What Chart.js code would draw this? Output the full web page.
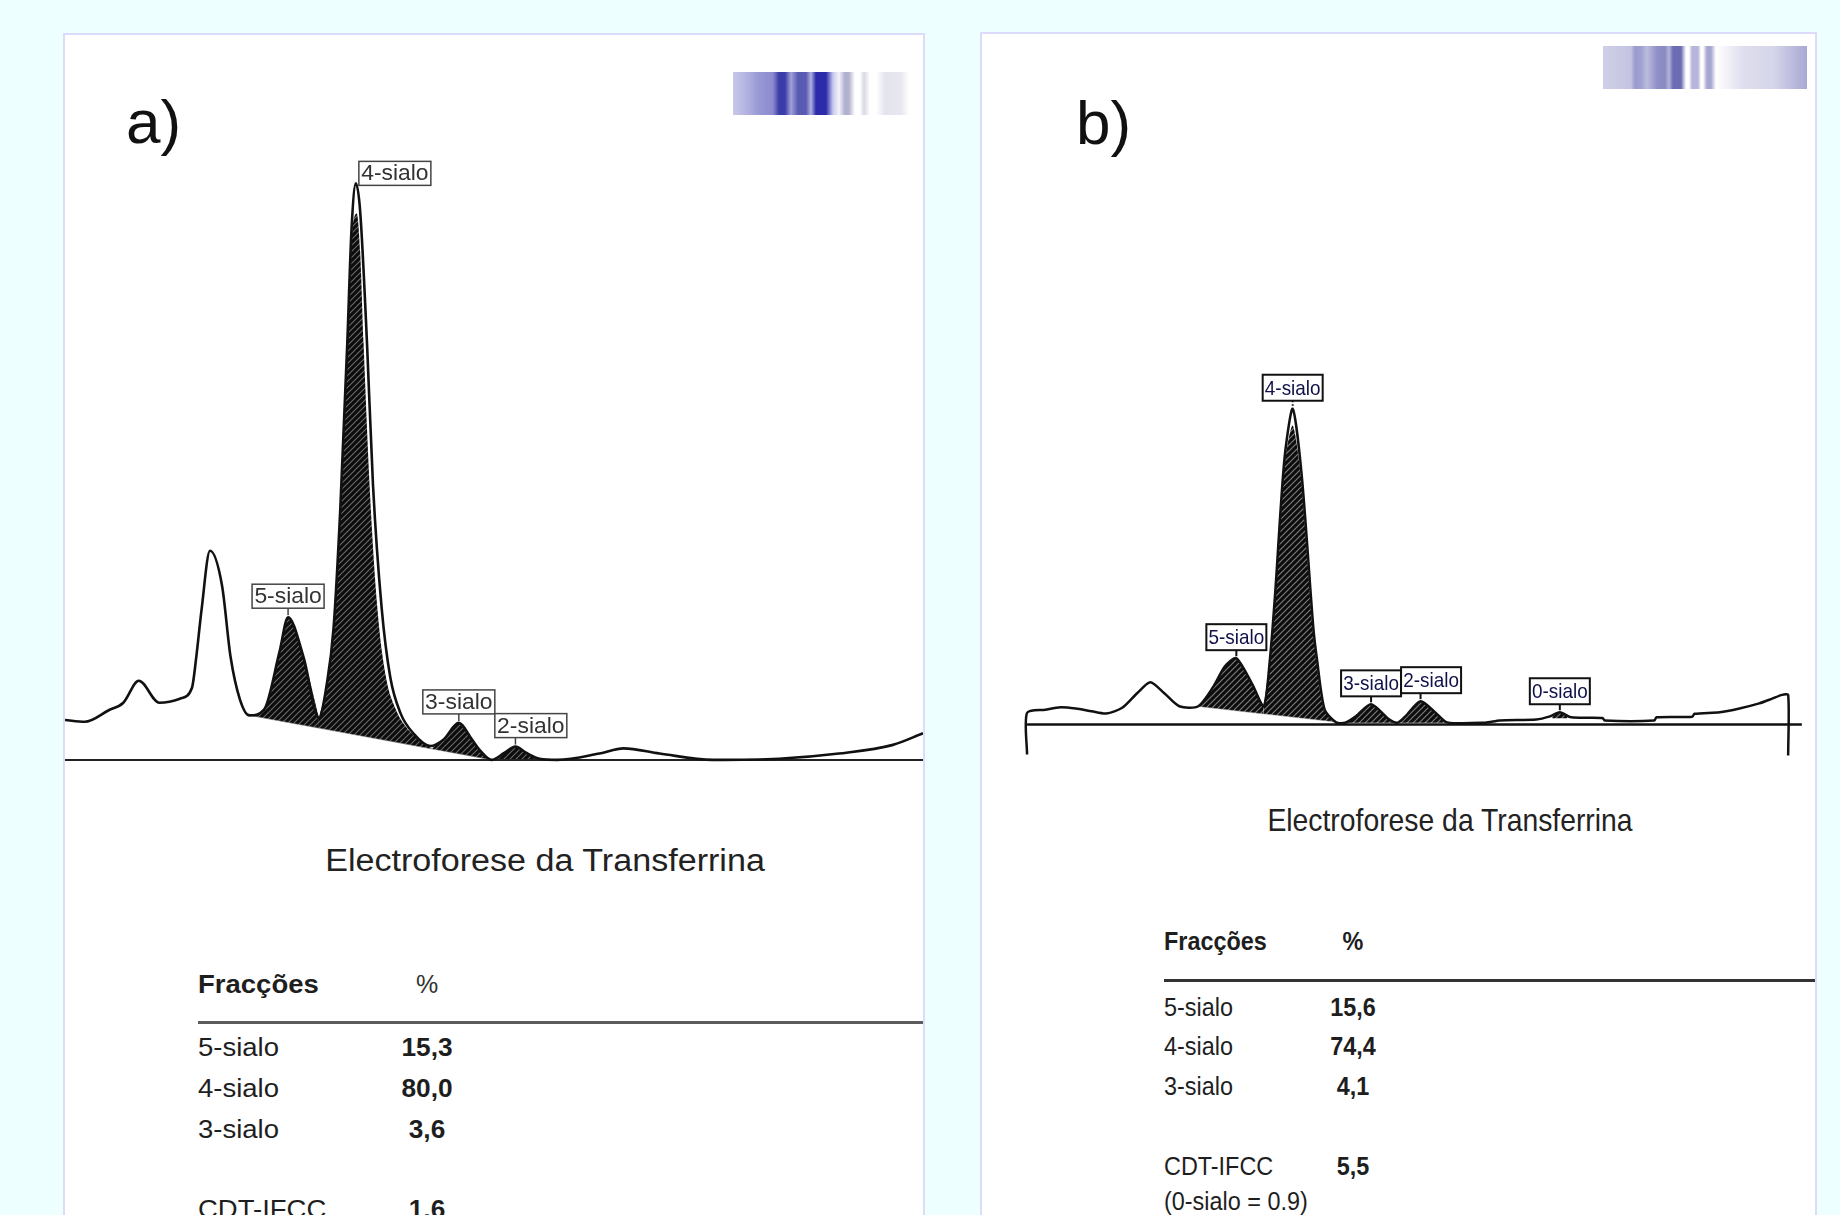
<!DOCTYPE html>
<html><head><meta charset="utf-8">
<script src="https://cdn.jsdelivr.net/npm/chart.js@4.4.1/dist/chart.umd.min.js"></script>
<style>
html,body{margin:0;padding:0;}
body{width:1840px;height:1215px;overflow:hidden;background:#edffff;position:relative;font-family:'Liberation Sans',Arial,sans-serif;color:#1e1e1e;}
.panel{position:absolute;background:#fff;border:2px solid #dcdcfa;box-sizing:border-box;}
.t{position:absolute;white-space:nowrap;transform-origin:0 0;}
canvas{position:absolute;}
.rule{position:absolute;}
.code{position:absolute;}
</style></head><body>
<div class="panel" style="left:63px;top:33px;width:862px;height:1300px"></div>
<div class="panel" style="left:980px;top:32px;width:837px;height:1300px"></div>
<div class="code" style="left:733px;top:72px;width:176px;height:43px;background:linear-gradient(to right,#c8c8ea 0px,#b0b0e0 15px,#9a9ad6 25px,#8a8acf 40px,#3c3ca8 46px,#3c3ca8 52px,#a0a0da 58px,#5a5ab2 65px,#5a5ab2 73px,#b0b0e0 78px,#2c2caa 83px,#2c2caa 93px,#c8c8ee 100px,#f4f4fa 106px,#aeaed0 112px,#b4b4d0 116px,#ffffff 122px,#ffffff 127px,#d8d8e6 131px,#ffffff 137px,#ffffff 143px,#e4e4ee 152px,#e8e8f0 168px,#ffffff 176px)"></div>
<div class="code" style="left:1603px;top:46px;width:204px;height:43px;background:linear-gradient(to right,#cfcfe8 0px,#c4c4e2 28px,#9a9acf 32px,#a0a0d2 38px,#bcbcde 44px,#9090c8 54px,#8a8ac4 62px,#b4b4da 66px,#6c6cb2 70px,#6c6cb2 78px,#ffffff 83px,#ffffff 86px,#b6b6da 89px,#b6b6da 95px,#ffffff 98px,#ffffff 100px,#a6a6d2 104px,#a6a6d2 108px,#ffffff 113px,#f2f2f8 124px,#dedeee 140px,#d6d6ea 170px,#a8a8d4 204px)"></div>
<canvas id="ca" width="858" height="647" style="left:65px;top:136px"></canvas>
<canvas id="cb" width="822" height="411" style="left:989px;top:361px"></canvas>
<div class="rule" style="left:198px;top:1021px;width:725px;height:3px;background:#5c5c5c"></div>
<div class="rule" style="left:1164px;top:979px;width:651px;height:3px;background:#333"></div>
<script>
// ================= DATA =================
// Panel a) electropherogram: [relative mobility, signal]
const traceA = [[0,6.9],[2.3,6.6],[5.1,8.6],[6.8,9.9],[8.6,13.7],[11.0,9.9],[13.4,10.6],[14.8,12.5],[15.3,17.8],[15.9,25.8],[16.9,36.2],[18.3,30.2],[19.3,17.8],[20.4,10.4],[21.5,7.7],[23.2,8.7],[25.0,18.7],[26.0,24.7],[27.8,17.8],[29.6,7.3],[30.5,13.0],[31.3,22.8],[32.1,43.9],[32.9,72.1],[33.4,92.0],[33.9,99.8],[34.4,95.0],[35.2,72.1],[35.9,47.5],[36.9,26.4],[37.9,14.4],[39.1,8.1],[40.6,4.6],[42.6,2.4],[44.1,3.5],[45.9,6.4],[47.4,3.6],[48.4,1.6],[49.7,0],[51.2,1.2],[52.5,2.3],[53.8,1.2],[55.3,0.2],[57.4,0],[62.3,1.1],[65.1,2.0],[69.3,1.1],[75.5,0],[83.2,0.2],[90.2,1.1],[96.5,2.6],[100,4.6]];
const baselineA = [[0,0],[100,0]];
const integrationA = [[21.5,7.7],[49.7,0]];
const shade5A = [[21.5,7.7],[23.2,8.7],[25.0,18.7],[26.0,24.7],[27.8,17.8],[29.6,7.3]];
const shade4A = [[29.6,7.3],[30.5,13.0],[31.3,22.8],[32.1,43.9],[32.9,72.1],[33.3,88.0],[34.0,94.6],[34.4,88.0],[34.8,72.1],[35.5,47.5],[36.4,26.4],[37.4,14.4],[38.6,8.6],[39.7,5.8],[41.2,3.6],[42.8,1.9]];
const shade3A = [[42.8,2.0],[44.1,3.5],[45.9,6.4],[47.4,3.6],[48.4,1.6],[49.7,0]];
const shade2A = [[49.7,0],[51.2,1.2],[52.5,2.3],[53.8,1.2],[55.3,0.2]];
const peakNamesA = ['5-sialo','4-sialo','3-sialo','2-sialo'];
const peakPosA = [26.0,33.9,45.9,52.5];
const fractionsA = ['5-sialo','4-sialo','3-sialo'];
const percentsA = ['15,3','80,0','3,6'];
const cdtA = ['CDT-IFCC','1,6'];

// Panel b) electropherogram
const traceB = [[0,-9.5],[0,3.7],[2.4,4.7],[4.4,5.5],[6.4,5.1],[8.5,4.2],[10.4,3.5],[12.5,5.3],[14.5,10.0],[16.2,13.4],[18.0,10.0],[20.0,5.8],[22.5,5.8],[24.5,12.1],[26.0,18.4],[27.5,21.0],[29.6,12.7],[31.1,5.8],[31.9,20.5],[32.6,41.6],[33.8,83.6],[34.9,99.9],[36.1,78.5],[37.6,31.0],[38.1,20.5],[39.1,4.7],[40.6,0.7],[41.8,0.6],[43.2,2.6],[45.2,6.4],[47.6,1.6],[48.7,0.6],[49.7,2.6],[51.7,7.4],[53.7,3.7],[55.2,0.7],[60.2,0.6],[62.1,1.3],[66.9,1.6],[68.6,2.5],[70.0,3.9],[71.5,2.3],[75.6,2.1],[75.9,1.3],[82.4,1.3],[82.7,2.3],[87.4,2.5],[87.7,3.4],[91.0,3.9],[93.6,5.1],[96.2,6.7],[97.9,8.2],[99.2,9.4],[100,9.4],[100,-9.8]];
const baselineB = [[0,0],[101.8,0]];
const integrationB = [[22.5,5.7],[40.6,0.8]];
const shade5B = [[22.5,5.8],[24.5,12.1],[26.0,18.4],[27.5,21.0],[29.6,12.7],[31.1,5.8]];
const shade4B = [[31.1,5.8],[31.9,20.5],[32.6,41.6],[33.8,82.0],[34.9,94.6],[36.0,78.0],[37.5,31.0],[38.0,20.5],[39.0,4.7],[40.6,0.8]];
const shade3B = [[41.8,0.6],[43.2,2.6],[45.2,6.4],[47.6,1.6],[48.5,0.6]];
const shade2B = [[49.0,0.6],[49.7,2.6],[51.7,7.4],[53.7,3.7],[55.0,0.6]];
const shade0B = [[69.0,2.4],[70.0,3.9],[71.0,2.5]];
const peakNamesB = ['5-sialo','4-sialo','3-sialo','2-sialo','0-sialo'];
const peakPosB = [27.5,34.9,45.2,51.7,70.0];
const fractionsB = ['5-sialo','4-sialo','3-sialo'];
const percentsB = ['15,6','74,4','4,1'];
const cdtB = ['CDT-IFCC','5,5'];
const noteB = '(0-sialo = 0.9)';
const titleText = 'Electroforese da Transferrina';
const headerText = ['Fracções','%'];

// ================= HELPERS =================
const pts = arr => arr.map(p => ({x:p[0], y:p[1]}));
function makeHatch(size, bg, fg, lw){
  const c = document.createElement('canvas'); c.width = size; c.height = size;
  const g = c.getContext('2d');
  g.fillStyle = bg; g.fillRect(0,0,size,size);
  g.strokeStyle = fg; g.lineWidth = lw; g.beginPath();
  g.moveTo(0,size); g.lineTo(size,0);
  g.moveTo(-size/2,size/2); g.lineTo(size/2,-size/2);
  g.moveTo(size/2,size*1.5); g.lineTo(size*1.5,size/2);
  g.stroke();
  return g.createPattern(c,'repeat');
}
function peakValue(trace, mx){
  let best = -Infinity;
  trace.forEach(p => { if (Math.abs(p[0]-mx) <= 0.5 && p[1] > best) best = p[1]; });
  return best;
}
function labelPlugin(cfg){
  return {
    id: 'peakLabels' + cfg.id,
    afterDatasetsDraw(chart){
      const ctx = chart.ctx, xs = chart.scales.x, ys = chart.scales.y;
      const placed = [];
      ctx.save();
      cfg.names.forEach((name, i) => {
        const mx = cfg.pos[i];
        const px = xs.getPixelForValue(mx), py = ys.getPixelForValue(peakValue(cfg.trace, mx));
        const w = cfg.boxW, h = cfg.boxH;
        let bx, by, tick = true;
        if (cfg.side && cfg.side[i] === 'right') { bx = px + 3; by = py + 2 - h; tick = false; }
        else { bx = px - w/2; by = py - cfg.gap - h; }
        placed.forEach(r => {
          if (bx < r.x + r.w && bx + w > r.x && by < r.y + r.h && by + h > r.y) bx = r.x + r.w;
        });
        placed.push({x:bx, y:by, w:w, h:h});
        ctx.strokeStyle = cfg.border; ctx.lineWidth = cfg.lw;
        if (tick) {
          ctx.save();
          if (cfg.dotted && cfg.dotted[i]) ctx.setLineDash([1.5,2]);
          ctx.beginPath(); ctx.moveTo(px, by + h); ctx.lineTo(px, py - 2); ctx.stroke();
          ctx.restore();
        }
        ctx.fillStyle = '#fff'; ctx.fillRect(bx, by, w, h);
        ctx.strokeRect(bx, by, w, h);
        ctx.save();
        ctx.translate(bx + w/2, by + h/2 + 1);
        ctx.scale(cfg.sx, 1);
        ctx.font = cfg.font; ctx.fillStyle = cfg.color;
        ctx.textAlign = 'center'; ctx.textBaseline = 'middle';
        ctx.fillText(name, 0, 0);
        ctx.restore();
      });
      ctx.restore();
    }
  };
}
function lineDs(data, opts){
  return Object.assign({data: pts(data), pointRadius:0, borderWidth:0, fill:false, borderColor:'rgba(0,0,0,0)'}, opts);
}
function baseOptions(xmin,xmax,ymin,ymax){
  return {
    responsive:false, animation:false, events:[],
    layout:{padding:0},
    plugins:{legend:{display:false}, tooltip:{enabled:false}},
    scales:{
      x:{type:'linear', min:xmin, max:xmax, display:false},
      y:{type:'linear', min:ymin, max:ymax, display:false}
    }
  };
}

// ================= CHART A =================
const hatchA = makeHatch(6, '#0c0c0c', '#6c6c6c', 1.1);
new Chart(document.getElementById('ca'), {
  type:'line',
  data:{datasets:[
    lineDs(traceA, {borderColor:'#111', borderWidth:2.6, cubicInterpolationMode:'monotone'}),
    lineDs(baselineA, {borderColor:'#222', borderWidth:2}),
    lineDs(integrationA, {borderColor:'rgba(150,150,150,0.55)', borderWidth:1}),
    lineDs(shade4A, {backgroundColor:hatchA, fill:2, cubicInterpolationMode:'monotone'}),
    lineDs(shade5A, {backgroundColor:hatchA, fill:2, cubicInterpolationMode:'monotone'}),
    lineDs(shade3A, {backgroundColor:hatchA, fill:2, cubicInterpolationMode:'monotone'}),
    lineDs(shade2A, {backgroundColor:hatchA, fill:'origin', cubicInterpolationMode:'monotone'})
  ]},
  options: baseOptions(0,100,-4,108),
  plugins:[labelPlugin({id:'a', names:peakNamesA, pos:peakPosA, trace:traceA, side:['top','right','top','top'],
    boxW:72, boxH:24, gap:9, border:'#444', lw:1.5, font:'22px "Liberation Sans", Arial, sans-serif', color:'#333', sx:1.04})]
});

// ================= CHART B =================
const hatchB = makeHatch(6, '#0c0c0c', '#7c7c7c', 1.2);
new Chart(document.getElementById('cb'), {
  type:'line',
  data:{datasets:[
    lineDs(traceB, {borderColor:'#111', borderWidth:2.5, tension:0.25}),
    lineDs(baselineB, {borderColor:'#111', borderWidth:2.5}),
    lineDs(integrationB, {borderColor:'rgba(170,170,170,0.5)', borderWidth:1}),
    lineDs(shade4B, {backgroundColor:hatchB, fill:2, tension:0.25}),
    lineDs(shade5B, {backgroundColor:hatchB, fill:2, tension:0.25}),
    lineDs(shade3B, {backgroundColor:hatchB, fill:{value:0.6}, tension:0.25}),
    lineDs(shade2B, {backgroundColor:hatchB, fill:{value:0.6}, tension:0.25}),
    lineDs(shade0B, {backgroundColor:hatchB, fill:{value:2.0}, tension:0.25})
  ]},
  options: baseOptions(-5,103,-15,115),
  plugins:[labelPlugin({id:'b', names:peakNamesB, pos:peakPosB, trace:traceB, dotted:[false,true,false,false,false],
    boxW:60, boxH:26, gap:8, border:'#111', lw:2, font:'21px "Liberation Sans", Arial, sans-serif', color:'#10104a', sx:0.9})]
});

// ================= TEXT =================
function addText(txt, x, baseline, size, opts){
  opts = opts || {};
  const d = document.createElement('div');
  d.className = 't';
  d.textContent = txt;
  d.style.fontSize = size + 'px';
  d.style.lineHeight = size + 'px';
  d.style.top = (baseline - 0.8465*size) + 'px';
  d.style.left = x + 'px';
  if (opts.bold) d.style.fontWeight = 'bold';
  if (opts.color) d.style.color = opts.color;
  const sx = opts.sx || 1;
  d.style.transform = opts.center ? `scaleX(${sx}) translateX(-50%)` : `scaleX(${sx})`;
  document.body.appendChild(d);
  return d;
}
// panel labels
addText('a)', 126, 143, 62, {color:'#111'});
addText('b)', 1076, 144, 62, {color:'#111'});
// panel a text
addText(titleText, 544.5, 871, 31, {center:true, sx:1.1, color:'#222'});
addText(headerText[0], 198, 993, 25, {bold:true, sx:1.1});
addText(headerText[1], 427, 993, 25, {center:true, sx:1.0, color:'#333'});
fractionsA.forEach((f,i) => {
  addText(f, 198, 1056 + i*41, 25, {sx:1.1});
  addText(percentsA[i], 427, 1056 + i*41, 25, {bold:true, center:true, sx:1.05});
});
addText(cdtA[0], 198, 1218, 25, {sx:1.1});
addText(cdtA[1], 427, 1218, 25, {bold:true, center:true, sx:1.05});
// panel b text
addText(titleText, 1449.5, 831, 32, {center:true, sx:0.885, color:'#222'});
addText(headerText[0], 1164, 950, 26, {bold:true, sx:0.9});
addText(headerText[1], 1353, 950, 26, {bold:true, center:true, sx:0.9});
fractionsB.forEach((f,i) => {
  addText(f, 1164, 1016 + i*39.5, 26, {sx:0.9});
  addText(percentsB[i], 1353, 1016 + i*39.5, 26, {bold:true, center:true, sx:0.9});
});
addText(cdtB[0], 1164, 1175, 26, {sx:0.9});
addText(cdtB[1], 1353, 1175, 26, {bold:true, center:true, sx:0.9});
addText(noteB, 1164, 1210, 26, {sx:0.9});
</script>
</body></html>
